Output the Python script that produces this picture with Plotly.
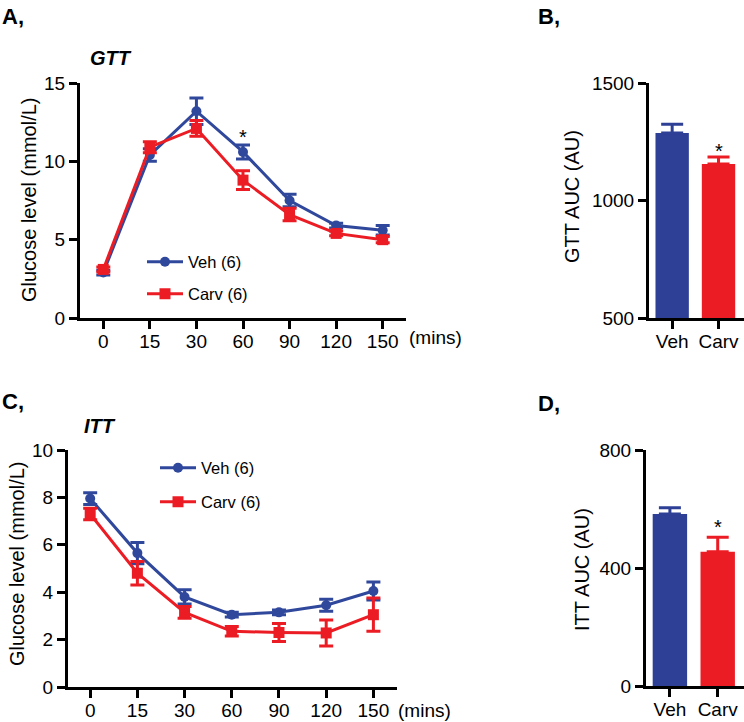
import plotly.graph_objects as go

W, H = 744, 722

# ---------------- data ----------------
time_labels = ["0", "15", "30", "60", "90", "120", "150"]

gtt_veh = [2.9, 10.4, 13.2, 10.6, 7.5, 5.9, 5.6]
gtt_veh_err = [0.15, 0.4, 0.85, 0.45, 0.4, 0.15, 0.3]
gtt_carv = [3.1, 10.9, 12.1, 8.8, 6.6, 5.4, 5.0]
gtt_carv_err = [0.15, 0.35, 0.5, 0.6, 0.4, 0.15, 0.2]

itt_veh = [7.95, 5.65, 3.8, 3.05, 3.15, 3.45, 4.05]
itt_veh_err = [0.25, 0.45, 0.3, 0.1, 0.1, 0.25, 0.38]
itt_carv = [7.3, 4.8, 3.15, 2.35, 2.3, 2.28, 3.05]
itt_carv_err = [0.24, 0.5, 0.25, 0.2, 0.38, 0.55, 0.7]

groups = ["Veh", "Carv"]
gtt_auc = [1287, 1155]
gtt_auc_err = [38, 30]
itt_auc = [583, 455]
itt_auc_err = [21, 49]

series_names = ["Veh (6)", "Carv (6)"]

# significance marks: (time label / group, y value)
gtt_star = ("60", 11.9)
gtt_auc_star = ("Carv", 1232)
itt_auc_star = ("Carv", 557)

BLUE = "#30489c"
RED = "#ec1c24"
BAR_BLUE = "#2e3f96"
FONT = "Arial, Liberation Sans, sans-serif"


def py(p):
    return 1 - p / H


def px(p):
    return p / W


fig = go.Figure()

# ---------------- panel A (GTT) ----------------
fig.add_trace(go.Scatter(
    x=time_labels, y=gtt_veh, name=series_names[0], mode="lines+markers",
    line=dict(color=BLUE, width=3), marker=dict(symbol="circle", size=10, color=BLUE),
    error_y=dict(type="data", array=gtt_veh_err, color=BLUE, thickness=3, width=7),
    xaxis="x", yaxis="y", legend="legend"))
fig.add_trace(go.Scatter(
    x=time_labels, y=gtt_carv, name=series_names[1], mode="lines+markers",
    line=dict(color=RED, width=3), marker=dict(symbol="square", size=11, color=RED),
    error_y=dict(type="data", array=gtt_carv_err, color=RED, thickness=3, width=7),
    xaxis="x", yaxis="y", legend="legend2"))

# ---------------- panel B (GTT AUC) ----------------
for i, (g, c) in enumerate(zip(groups, [BAR_BLUE, RED])):
    fig.add_trace(go.Bar(
        x=[g], y=[gtt_auc[i]],
        marker=dict(color=c, line=dict(width=0)), width=0.72,
        error_y=dict(type="data", array=[gtt_auc_err[i]], arrayminus=[0], symmetric=False,
                     color=c, thickness=3, width=11),
        showlegend=False, xaxis="x2", yaxis="y2"))

# ---------------- panel C (ITT) ----------------
fig.add_trace(go.Scatter(
    x=time_labels, y=itt_veh, name=series_names[0], mode="lines+markers",
    line=dict(color=BLUE, width=3), marker=dict(symbol="circle", size=10, color=BLUE),
    error_y=dict(type="data", array=itt_veh_err, color=BLUE, thickness=3, width=7),
    xaxis="x3", yaxis="y3", legend="legend3"))
fig.add_trace(go.Scatter(
    x=time_labels, y=itt_carv, name=series_names[1], mode="lines+markers",
    line=dict(color=RED, width=3), marker=dict(symbol="square", size=11, color=RED),
    error_y=dict(type="data", array=itt_carv_err, color=RED, thickness=3, width=7),
    xaxis="x3", yaxis="y3", legend="legend4"))

# ---------------- panel D (ITT AUC) ----------------
for i, (g, c) in enumerate(zip(groups, [BAR_BLUE, RED])):
    fig.add_trace(go.Bar(
        x=[g], y=[itt_auc[i]],
        marker=dict(color=c, line=dict(width=0)), width=0.72,
        error_y=dict(type="data", array=[itt_auc_err[i]], arrayminus=[0], symmetric=False,
                     color=c, thickness=3, width=11),
        showlegend=False, xaxis="x4", yaxis="y4"))

axis_common = dict(showline=True, linecolor="black", linewidth=3, ticks="outside",
                   ticklen=8, tickwidth=3, tickcolor="black", showgrid=False,
                   zeroline=False, tickfont=dict(family=FONT, size=19, color="black"),
                   fixedrange=True, automargin=False)
xaxis_extra = dict(ticklabelstandoff=-4)

fig.update_layout(
    width=W, height=H, margin=dict(l=0, r=0, t=0, b=0, autoexpand=False),
    paper_bgcolor="white", plot_bgcolor="white",
    font=dict(family=FONT, color="black"),
    barmode="overlay",
    xaxis=dict(domain=[px(80), px(406)], anchor="y", type="category",
               range=[-0.5, 6.5], **axis_common, **xaxis_extra),
    yaxis=dict(domain=[py(318), py(83)], anchor="x", range=[0, 15],
               tickvals=[0, 5, 10, 15], **axis_common),
    xaxis2=dict(domain=[px(649), px(744)], anchor="y2", type="category",
                categoryorder="array", categoryarray=groups,
                range=[-0.5, 1.55], **axis_common, **xaxis_extra),
    yaxis2=dict(domain=[py(318), py(83)], anchor="x2", range=[500, 1500],
                tickvals=[500, 1000, 1500], **axis_common),
    xaxis3=dict(domain=[px(68), px(397)], anchor="y3", type="category",
                range=[-0.47, 6.5], **axis_common, **xaxis_extra),
    yaxis3=dict(domain=[py(687), py(450)], anchor="x3", range=[0, 10],
                tickvals=[0, 2, 4, 6, 8, 10], **axis_common),
    xaxis4=dict(domain=[px(646), px(744)], anchor="y4", type="category",
                categoryorder="array", categoryarray=groups,
                range=[-0.5, 1.55], **axis_common, **xaxis_extra),
    yaxis4=dict(domain=[py(686), py(450)], anchor="x4", range=[0, 800],
                tickvals=[0, 400, 800], **axis_common),
)

leg_common = dict(xanchor="left", yanchor="middle", bgcolor="rgba(0,0,0,0)",
                  font=dict(family=FONT, size=16.5, color="black"), itemwidth=36,
                  borderwidth=0)
fig.update_layout(
    legend=dict(x=px(142), y=py(262), **leg_common),
    legend2=dict(x=px(142), y=py(294), **leg_common),
    legend3=dict(x=px(155), y=py(468), **leg_common),
    legend4=dict(x=px(155), y=py(502), **leg_common),
)

ann = []


def text(x, y, s, size, xanchor="center", yanchor="middle", angle=0, bold=False, italic=False):
    if bold:
        s = "<b>" + s + "</b>"
    if italic:
        s = "<i>" + s + "</i>"
    ann.append(dict(x=px(x), y=py(y), xref="paper", yref="paper", text=s, showarrow=False,
                    xanchor=xanchor, yanchor=yanchor, textangle=angle,
                    font=dict(family=FONT, size=size, color="black")))


# panel labels
text(0, 16, "A,", 22, xanchor="left", bold=True)
text(536, 16, "B,", 22, xanchor="left", bold=True)
text(0, 401, "C,", 22, xanchor="left", bold=True)
text(536, 403, "D,", 22, xanchor="left", bold=True)
# panel titles
text(88, 58, "GTT", 20, xanchor="left", bold=True, italic=True)
text(82, 426, "ITT", 20, xanchor="left", bold=True, italic=True)
# y-axis titles
text(29, 200, "Glucose level (mmol/L)", 20, angle=-90)
text(572, 197, "GTT AUC (AU)", 20, angle=-90)
text(17, 564, "Glucose level (mmol/L)", 20, angle=-90)
text(582, 570, "ITT AUC (AU)", 20, angle=-90)
# (mins)
text(407, 337, "(mins)", 19, xanchor="left")
text(396, 710, "(mins)", 19, xanchor="left")

fig.update_layout(annotations=ann)

# significance stars (data coordinates)
star_font = dict(family=FONT, size=20, color="black")
fig.add_annotation(x=time_labels.index(gtt_star[0]), y=gtt_star[1], xref="x", yref="y",
                   text="*", showarrow=False, yanchor="middle", yshift=-5, font=star_font)
fig.add_annotation(x=groups.index(gtt_auc_star[0]), y=gtt_auc_star[1], xref="x2", yref="y2",
                   text="*", showarrow=False, yanchor="middle", yshift=-5, font=star_font)
fig.add_annotation(x=groups.index(itt_auc_star[0]), y=itt_auc_star[1], xref="x4", yref="y4",
                   text="*", showarrow=False, yanchor="middle", yshift=-5, font=star_font)

fig.write_html("out.html", config={"displayModeBar": False},
               post_script="document.body.style.margin='0';")
